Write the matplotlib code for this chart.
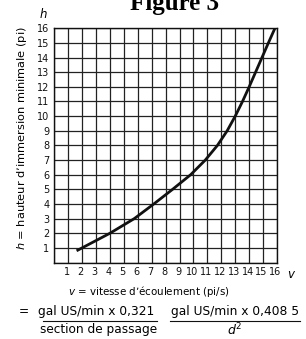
import matplotlib
matplotlib.use("Agg")
import matplotlib.pyplot as plt
from matplotlib.lines import Line2D
from matplotlib.transforms import ScaledTranslation

# Data
v_vals = [1.6, 2.0, 4.0, 5.75, 7.15, 8.5, 9.8, 10.85, 11.72, 12.42, 13.0, 13.52, 14.0, 14.46, 14.92, 15.38, 15.85]
h_vals = [0.8, 1.0, 2.0, 3.0, 4.0, 5.0, 6.0, 7.0, 8.0, 9.0, 10.0, 11.0, 12.0, 13.0, 14.0, 15.0, 16.0]
x_ticks = list(range(1, 17))
y_ticks = list(range(1, 17))

title = "Figure 3"
ylabel = "$h$ = hauteur d\u2019immersion minimale (pi)"
xlabel = "$v$ = vitesse d\u2019écoulement (pi/s)"
frac1_eq = "="
frac1_num = "gal US/min x 0,321"
frac1_den = "section de passage"
frac2_num = "gal US/min x 0,408 5"
frac2_den = "$d^2$"

plt.rcParams['font.family'] = ['DejaVu Sans']
plt.rcParams['mathtext.fontset'] = 'dejavusans'

W, H = 306, 339
fig = plt.figure(figsize=(W / 100, H / 100), dpi=100)
ax = fig.add_axes([54.3 / W, 1 - 262.5 / H, (277 - 54.3) / W, (262.5 - 28.3) / H])

ax.set_xlim(0, 16)
ax.set_ylim(0, 16)
ax.set_xticks(range(0, 17))
ax.set_yticks(range(0, 17))
ax.set_xticklabels([""] + [str(t) for t in x_ticks])
ax.set_yticklabels([""] + [str(t) for t in y_ticks])
ax.tick_params(axis='both', length=0, labelsize=7, pad=3.5, colors='#111111')
off = ScaledTranslation(-1.5 / 100, 0, fig.dpi_scale_trans)
for lab in ax.get_xticklabels():
    lab.set_transform(lab.get_transform() + off)
ax.grid(True, color='#222222', linewidth=0.9)
ax.set_axisbelow(True)
for s in ax.spines.values():
    s.set_color('#111111')
    s.set_linewidth(1.0)

ax.plot(v_vals, h_vals, color='#111111', linewidth=2.0, solid_capstyle='butt',
        solid_joinstyle='round')

# titles and labels
fig.text(175 / W, 1 - 10 / H, title, ha='center', va='baseline',
         fontsize=18, fontweight='bold', family='Liberation Serif')
fig.text(43 / W, 1 - 14 / H, "$h$", ha='center', va='center', fontsize=8.5)
fig.text(292 / W, 1 - 274 / H, "$v$", ha='center', va='center', fontsize=8.5)
fig.text(22 / W, 1 - 138.5 / H, ylabel, rotation=90, ha='center', va='center', fontsize=8.2)
fig.text(149 / W, 1 - 291.5 / H, xlabel, ha='center', va='center', fontsize=7.4)

fig.text(23.5 / W, 1 - 311.5 / H, frac1_eq, ha='center', va='center', fontsize=8.8)
fig.text(96 / W, 1 - 311.5 / H, frac1_num, ha='center', va='center', fontsize=8.8)
fig.text(99 / W, 1 - 330 / H, frac1_den, ha='center', va='center', fontsize=8.7)
fig.text(235 / W, 1 - 311.5 / H, frac2_num, ha='center', va='center', fontsize=8.8)
fig.text(235 / W, 1 - 330 / H, frac2_den, ha='center', va='center', fontsize=9)

for x0, x1 in [(42.7, 156.7), (170, 300)]:
    fig.add_artist(Line2D([x0 / W, x1 / W], [1 - 320.7 / H] * 2, color='#111111',
                          linewidth=0.8, transform=fig.transFigure))

fig.savefig("out.png", dpi=100, facecolor='white')
